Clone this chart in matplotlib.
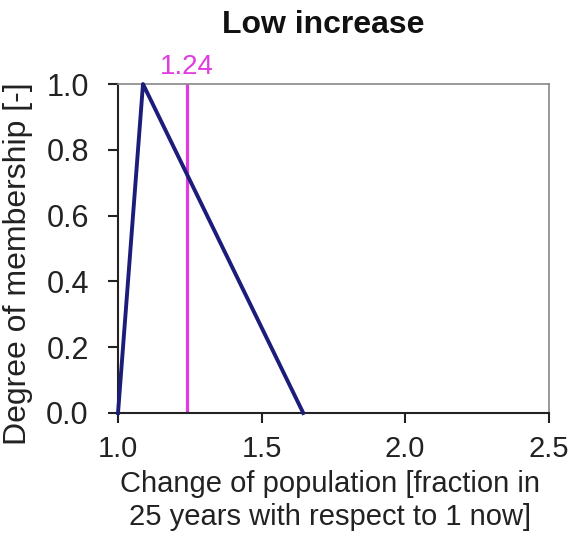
"""
Membership function plot: Low increase
"""
import matplotlib
matplotlib.use("Agg")
import matplotlib.pyplot as plt

# Data
member_x = [1.0, 1.087, 1.645]
member_y = [0.0, 1.0, 0.0]
current_value = 1.24
x_ticks = [1.0, 1.5, 2.0, 2.5]
y_ticks = [0.0, 0.2, 0.4, 0.6, 0.8, 1.0]


def main():
    plt.rcParams['font.family'] = ['Liberation Sans', 'DejaVu Sans']
    fig = plt.figure(figsize=(5.74, 5.41), dpi=100)
    ax = fig.add_axes([0.2056, 0.2366, 0.7504, 0.6081])

    ax.plot(member_x, member_y, color="#1c1c7a", lw=2.8, clip_on=False, zorder=3)
    ax.axvline(current_value, color="#e03ce0", lw=2.3, zorder=2)
    ax.text(current_value, 1.03, f"{current_value:.2f}", color="#e03ce0",
            fontsize=20, ha="center", va="baseline")

    ax.set_xlim(1.0, 2.5)
    ax.set_ylim(0.0, 1.0)
    ax.set_xticks(x_ticks)
    ax.set_xticklabels([f"{v:.1f}" for v in x_ticks])
    ax.set_yticks(y_ticks)
    ax.set_yticklabels([f"{v:.1f}" for v in y_ticks])
    ax.tick_params(axis="both", direction="out", length=7, width=1.5,
                   labelsize=22, colors="#222222")
    ax.tick_params(axis="x", pad=9, labelsize=21)
    ax.tick_params(axis="y", pad=14)

    for side in ["left", "bottom"]:
        ax.spines[side].set_color("#222222")
        ax.spines[side].set_linewidth(1.5)
    for side in ["top", "right"]:
        ax.spines[side].set_color("#888888")
        ax.spines[side].set_linewidth(1.2)

    fig.text(0.575, 0.131,
             "Change of population [fraction in\n25 years with respect to 1 now]",
             fontsize=21, color="#222222", ha="center", va="top",
             linespacing=1.2)
    fig.text(0.032, 0.512, "Degree of membership [-]", fontsize=23,
             color="#222222", rotation=90, ha="center", va="center")
    fig.text(0.563, 0.939, "Low increase", fontsize=23, fontweight="bold",
             ha="center", va="baseline", color="#111111")

    fig.savefig("out.png", dpi=100)
    plt.close(fig)


if __name__ == "__main__":
    main()
